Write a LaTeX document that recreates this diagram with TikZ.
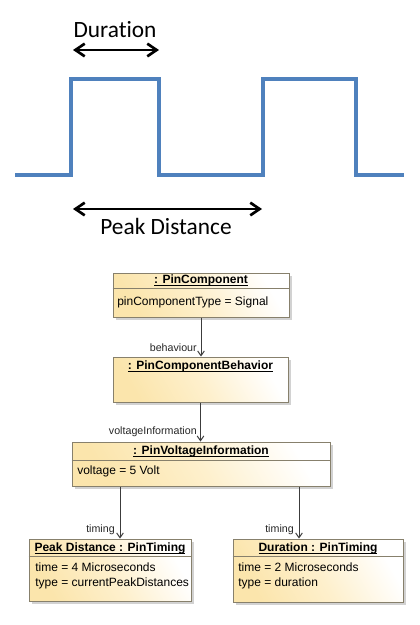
\documentclass[tikz,border=0pt]{standalone}
\usepackage{fontspec}
\setmainfont{Liberation Sans}
\newfontfamily\calibri[Ligatures={NoCommon,NoRare,NoDiscretionary}]{Carlito}
\usetikzlibrary{arrows.meta,shadows}
\definecolor{wave}{RGB}{79,129,189}
\definecolor{ufill}{RGB}{251,229,172}
\definecolor{umid}{RGB}{254,240,205}
\definecolor{uborder}{RGB}{135,128,108}
\definecolor{uline}{RGB}{60,60,60}
\newcommand\ulbold[1]{\setbox0\hbox{\bfseries #1}\rlap{\rule[-1.7pt]{\wd0}{0.6pt}}\box0}
\tikzset{
  obj/.style 2 args={rectangle, draw=uborder, line width=0.75pt, inner sep=0pt,
    top color=white, bottom color=ufill, middle color=umid, shading angle=-60,
    drop shadow={shadow xshift=2pt, shadow yshift=-2pt, fill=black!35, opacity=0.5},
    minimum width=#1*0.75pt, minimum height=#2*0.75pt},
  sep/.style={draw=uborder, line width=0.75pt},
  head/.style={font=\fontsize{9}{11}\selectfont, inner sep=0pt},
  attr/.style={font=\fontsize{9}{11}\selectfont, inner sep=0pt, anchor=west, align=left},
  lab/.style={font=\fontsize{8}{10}\selectfont, inner sep=0pt, anchor=east, text=black!85},
  conn/.style={draw=uline, line width=0.75pt, -{Straight Barb[length=3.5pt,width=5pt]}},
  dim/.style={draw=black, line width=2pt, {Straight Barb[length=7pt,width=9.5pt]}-{Straight Barb[length=7pt,width=9.5pt]}},
  big/.style={font=\calibri\fontsize{17.5}{20}\selectfont, inner sep=0pt, anchor=base},
}
\begin{document}
\begin{tikzpicture}[x=0.75pt,y=-0.75pt]
\useasboundingbox[fill=white] (0,0) rectangle (420,625);

% waveform
\draw[wave, line width=3.5pt, line join=miter]
  (15,175) -- (71,175) -- (71,79) -- (159,79) -- (159,175) -- (263,175)
  -- (263,79) -- (356,79) -- (356,175) -- (404,175);

\node[big] (dur) at (115,37) {Duration};
\draw[dim] (73,50) -- (159,50);
\draw[dim] (73,209) -- (262,209);
\node[big] (pd) at (166,234) {Peak Distance};

% UML objects
\node[obj={176}{44}] (b1) at (201,295) {};
\draw[sep] (b1.west |- 0,288) -- (b1.east |- 0,288);
\node[head] (h1) at (201,280.5) {\ulbold{: PinComponent}};
\node[attr] (a1) at (117,302) {pinComponentType = Signal};

\node[obj={175}{45}] (b2) at (200.5,379.5) {};
\node[head] (h2) at (200.5,366.5) {\ulbold{: PinComponentBehavior}};

\node[obj={258}{44}] (b3) at (201,464) {};
\draw[sep] (b3.west |- 0,460) -- (b3.east |- 0,460);
\node[head] (h3) at (201,451) {\ulbold{: PinVoltageInformation}};
\node[attr] (a3) at (77,471) {voltage = 5 Volt};

\node[obj={162}{62}] (b4) at (110,570) {};
\draw[sep] (b4.west |- 0,556) -- (b4.east |- 0,556);
\node[head] (h4) at (110,548) {\ulbold{Peak Distance : PinTiming}};
\node[attr] (a4) at (35,576) {time = 4 Microseconds\\type = currentPeakDistances};

\node[obj={170}{63}] (b5) at (318,570.5) {};
\draw[sep] (b5.west |- 0,556) -- (b5.east |- 0,556);
\node[head] (h5) at (318,548) {\ulbold{Duration : PinTiming}};
\node[attr] (a5) at (238,576) {time = 2 Microseconds\\type = duration};

% connectors
\coordinate (t4) at (120,539);
\coordinate (t5) at (299,539);
\draw[conn] (b1.south) -- (b1.south |- b2.north);
\draw[conn] (b2.south) -- (b2.south |- b3.north);
\draw[conn] (b3.south -| t4) -- (t4 |- b4.north);
\draw[conn] (b3.south -| t5) -- (t5 |- b5.north);

\node[lab] (l1) at (197,348) {behaviour};
\node[lab] (l2) at (197,432) {voltageInformation};
\node[lab] (l3) at (115,530) {timing};
\node[lab] (l4) at (294,530) {timing};
\end{tikzpicture}
\end{document}
